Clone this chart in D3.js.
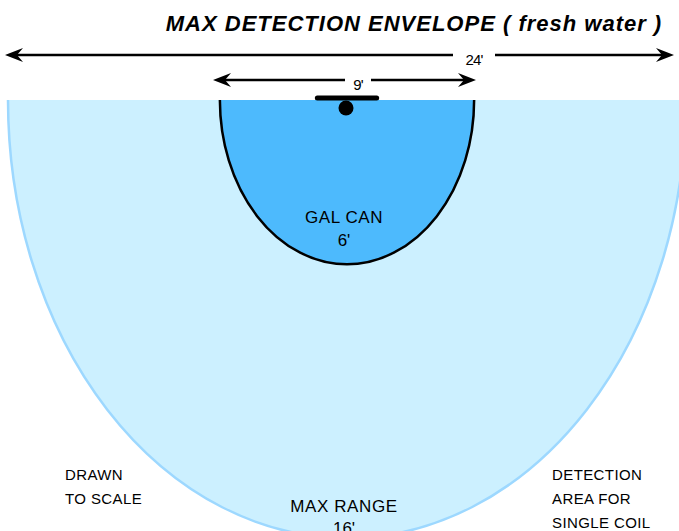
<!DOCTYPE html>
<html>
<head>
<meta charset="utf-8">
<script src="https://cdn.jsdelivr.net/npm/d3@7"></script>
<style>
  body { margin: 0; background: #fff; }
  svg text { font-family: "Liberation Sans", Arial, sans-serif; }
</style>
</head>
<body>
<div id="svganchor"></div>
<script>
let width = 679, height = 531;

// envelopes: name, width (ft), depth (ft)
let zoneNames = ["MAX RANGE", "GAL CAN"];
let zoneWidths = [24, 9];
let zoneDepths = [16, 6];
let zoneLabels = ["16'", "6'"];
let widthLabels = ["24'", "9'"];
let zoneFills = ["#ccf0ff", "#4dbafd"];
let zoneStrokes = ["#9dd8ff", "#000"];

let surfaceY = 100;

let xScale = d3.scaleLinear()
    .domain([-12, 12])
    .range([8, 686]);

let yScale = d3.scaleLinear()
    .domain([0, 16])
    .range([surfaceY, 538]);

let svg = d3.select("#svganchor")
    .append("svg")
    .attr("width", width)
    .attr("height", height);

function halfEllipse(w, d) {
    let x0 = xScale(-w / 2), x1 = xScale(w / 2);
    let rx = (x1 - x0) / 2, ry = yScale(d) - surfaceY;
    return `M${x0},${surfaceY} A${rx},${ry} 0 0 0 ${x1},${surfaceY}`;
}

svg.selectAll(".zone")
    .data(zoneWidths)
    .enter()
    .append("path")
    .attr("class", "zone")
    .attr("d", (w, i) => halfEllipse(w, zoneDepths[i]))
    .attr("fill", (w, i) => zoneFills[i])
    .attr("stroke", (w, i) => zoneStrokes[i])
    .attr("stroke-width", 2.5);

// coil
svg.append("line")
    .attr("x1", xScale(-1.05)).attr("x2", xScale(1.05))
    .attr("y1", 98).attr("y2", 98)
    .attr("stroke", "#000")
    .attr("stroke-width", 5)
    .attr("stroke-linecap", "round");

svg.append("circle")
    .attr("cx", xScale(0) - 1)
    .attr("cy", 108)
    .attr("r", 7.5)
    .attr("fill", "#000");

// width arrows
let arrowY = [55, 80];
let arrowEnds = [[5, 674], [213, 476]];
let arrowLabelX = [474, 358];

function arrowHead(x, y, dir) {
    let p = d3.path();
    p.moveTo(x, y);
    p.lineTo(x + dir * 18, y - 7);
    p.lineTo(x + dir * 12, y);
    p.lineTo(x + dir * 18, y + 7);
    p.closePath();
    return p.toString();
}

widthLabels.forEach(function(lab, i) {
    let y = arrowY[i], a = arrowEnds[i][0], b = arrowEnds[i][1];
    let lx = arrowLabelX[i];
    let gap = i === 0 ? 21 : 13;
    svg.append("line")
        .attr("x1", a + 6).attr("x2", lx - gap)
        .attr("y1", y).attr("y2", y)
        .attr("stroke", "#000").attr("stroke-width", 2.5);
    svg.append("line")
        .attr("x1", lx + gap).attr("x2", b - 6)
        .attr("y1", y).attr("y2", y)
        .attr("stroke", "#000").attr("stroke-width", 2.5);
    svg.append("path").attr("d", arrowHead(a, y, 1)).attr("fill", "#000");
    svg.append("path").attr("d", arrowHead(b, y, -1)).attr("fill", "#000");
    svg.append("text")
        .attr("x", lx).attr("y", y + 10)
        .attr("text-anchor", "middle")
        .attr("font-size", 15)
        .attr("letter-spacing", -0.8)
        .text(lab);
});

// title
svg.append("text")
    .attr("x", 414)
    .attr("y", 31)
    .attr("text-anchor", "middle")
    .attr("font-size", 22)
    .attr("font-weight", "bold")
    .attr("font-style", "italic")
    .attr("letter-spacing", 1)
    .text("MAX DETECTION ENVELOPE ( fresh water )");

// zone labels
let zoneLabelY = [[512, 534], [223, 246]];
zoneNames.forEach(function(n, i) {
    svg.append("text")
        .attr("x", xScale(0) - 3).attr("y", zoneLabelY[i][0])
        .attr("text-anchor", "middle")
        .attr("font-size", 17)
        .attr("letter-spacing", 0.6)
        .text(n);
    svg.append("text")
        .attr("x", xScale(0) - 3).attr("y", zoneLabelY[i][1])
        .attr("text-anchor", "middle")
        .attr("font-size", 17)
        .attr("letter-spacing", 0)
        .text(zoneLabels[i]);
});

// notes
let leftNote = ["DRAWN", "TO SCALE"];
let rightNote = ["DETECTION", "AREA FOR", "SINGLE COIL"];

svg.selectAll(".lnote")
    .data(leftNote)
    .enter()
    .append("text")
    .attr("x", 65)
    .attr("y", (d, i) => 480 + i * 24)
    .attr("font-size", 15)
    .attr("letter-spacing", 0.4)
    .text(d => d);

svg.selectAll(".rnote")
    .data(rightNote)
    .enter()
    .append("text")
    .attr("x", 552)
    .attr("y", (d, i) => 480 + i * 24)
    .attr("font-size", 15)
    .attr("letter-spacing", 0.4)
    .text(d => d);
</script>
</body>
</html>
